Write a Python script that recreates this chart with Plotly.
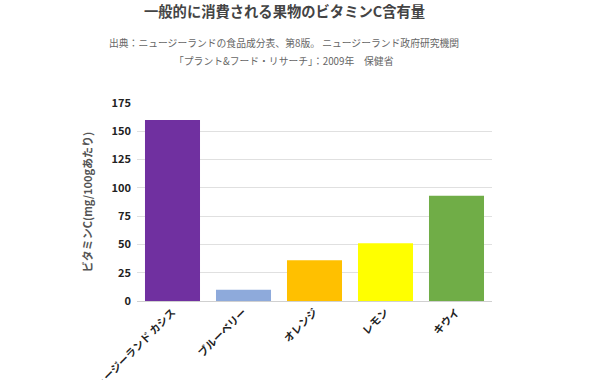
import plotly.graph_objects as go

categories = ["ニュージーランド カシス", "ブルーベリー", "オレンジ", "レモン", "キウイ"]
vitamin_c = [160, 10, 36, 51, 93]
colors = ["#7030a0", "#8eaadb", "#ffc000", "#ffff00", "#70ad47"]
y_ticks = [0, 25, 50, 75, 100, 125, 150, 175]
title_text = "一般的に消費される果物のビタミンC含有量"
source_lines = ["出典：ニュージーランドの食品成分表、第8版。 ニュージーランド政府研究機関",
                "「プラント&フード・リサーチ」：2009年　保健省"]

FONT = "Noto Sans CJK JP"
W, H = 600, 380
# target plot box in screen pixels (body margin removed via post_script)
X0, X1, Y0, Y1 = 137, 492, 103, 301
L, T = X0, Y0
R, B = W - X1, H - Y1
PW, PH = X1 - X0, Y1 - Y0


def px_to_paper(xs, ys):
    return (xs - X0) / PW, (Y1 - ys) / PH


fig = go.Figure(go.Bar(x=categories, y=vitamin_c, marker_color=colors,
                       marker_line_width=0, hoverinfo="skip"))

annotations = []
for text, ys, size, color, bold in [(title_text, 11, 14.3, "#444", True),
                                    (source_lines[0], 43, 9.8, "#666", False),
                                    (source_lines[1], 61, 9.8, "#666", False)]:
    ax, ay = px_to_paper(284, ys)
    annotations.append(dict(text=f"<b>{text}</b>" if bold else text,
                            xref="paper", yref="paper", x=ax, y=ay,
                            xanchor="center", yanchor="middle", showarrow=False,
                            font=dict(size=size, color=color, family=FONT)))

fig.update_layout(
    width=W, height=H,
    margin=dict(l=L, r=R, t=T, b=B),
    paper_bgcolor="white", plot_bgcolor="white",
    font=dict(family=FONT, color="#000"),
    bargap=0.225,
    showlegend=False,
    hovermode=False,
    annotations=annotations,
)

fig.update_yaxes(range=[0, 175], tickvals=y_ticks, automargin=False,
                 ticktext=[f"<b>{v}</b>" for v in y_ticks],
                 tickfont=dict(size=11, color="#222"),
                 showgrid=True, gridcolor="#e0e0e0", gridwidth=1,
                 zeroline=True, zerolinecolor="#d0d0d0", zerolinewidth=1,
                 ticks="", ticklen=0, ticklabelstandoff=5,
                 title=dict(text="<b>ビタミンC(mg/100gあたり)</b>",
                            font=dict(size=11, color="#555", family=FONT),
                            standoff=16))
fig.update_xaxes(tickangle=-45, tickfont=dict(size=10.5, color="#222"),
                 ticktext=[f"<b>{c}</b>" for c in categories], automargin=False,
                 tickvals=categories, showgrid=False, showline=False,
                 ticks="", ticklabelstandoff=2)

fig.write_html("out.html", config={"displayModeBar": False, "staticPlot": True},
               post_script="document.body.style.margin='0';")
